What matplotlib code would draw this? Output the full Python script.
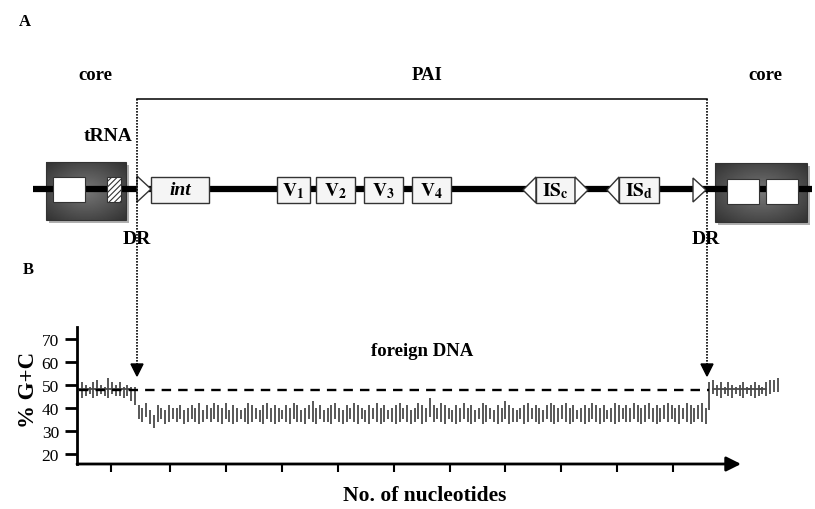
import numpy as np
import matplotlib.pyplot as plt
from matplotlib.patches import Rectangle, Polygon

plt.rcParams['font.family'] = 'Liberation Serif'
plt.rcParams['mathtext.fontset'] = 'stix'
plt.rcParams['hatch.linewidth'] = 0.8

# %G+C windows (low / high of each bar)
left_lo = [44, 45, 46, 44, 45, 46, 45, 44, 46, 45, 45, 44, 45, 43, 41]
left_hi = [51, 50, 49, 51, 52, 50, 49, 53, 51, 50, 51, 49, 50, 49, 49]

foreign_hi = [41, 40, 42, 39, 37, 41, 40, 39, 41, 40, 40, 41, 39, 40, 41, 40, 42, 39, 41, 40,
              42, 41, 40, 42, 39, 41, 40, 39, 40, 42, 41, 40, 39, 41, 42, 40, 41, 40, 39, 41,
              40, 42, 41, 39, 40, 41, 43, 40, 41, 39, 40, 41, 42, 40, 39, 41, 40, 42, 41, 40,
              39, 41, 40, 42, 40, 41, 39, 40, 41, 42, 40, 41, 39, 40, 42, 41, 40, 44, 41, 40,
              42, 41, 40, 39, 41, 40, 42, 40, 41, 39, 40, 42, 41, 40, 39, 41, 40, 43, 41, 40,
              39, 40, 41, 42, 40, 41, 40, 39, 41, 42, 41, 40, 41, 42, 40, 41, 39, 40, 41, 40,
              42, 41, 40, 41, 39, 40, 42, 41, 40, 41, 40, 42, 41, 40, 41, 42, 40, 41, 40, 41,
              42, 41, 40, 41, 40, 42, 41, 40, 41, 42, 40]
foreign_lo = [35, 34, 36, 33, 31, 34, 35, 33, 34, 35, 34, 35, 33, 34, 35, 34, 33, 34, 35, 34,
              35, 34, 33, 35, 34, 33, 34, 35, 34, 33, 34, 35, 34, 33, 35, 34, 33, 34, 35, 34,
              33, 35, 34, 34, 33, 35, 34, 33, 35, 34, 34, 33, 35, 34, 33, 34, 35, 34, 33, 35,
              34, 33, 35, 34, 33, 34, 35, 34, 33, 34, 35, 34, 33, 34, 35, 33, 34, 36, 34, 35,
              34, 33, 35, 34, 33, 34, 35, 34, 33, 34, 35, 33, 34, 35, 34, 33, 34, 35, 33, 34,
              34, 35, 33, 34, 35, 34, 33, 34, 35, 34, 33, 34, 35, 34, 33, 34, 35, 34, 33, 34,
              35, 34, 33, 34, 35, 34, 33, 34, 35, 34, 34, 35, 34, 33, 34, 35, 34, 33, 34, 35,
              34, 35, 34, 33, 35, 34, 33, 34, 35, 34, 33]

right_lo = [39, 46, 45, 44, 46, 45, 44, 46, 45, 44, 46, 45, 44, 45, 46, 45, 46, 47, 47]
right_hi = [51, 52, 50, 51, 49, 51, 50, 49, 50, 51, 49, 50, 51, 50, 49, 51, 52, 52, 53]

# short mean marks on some core windows
left_tick_idx = [0, 2, 4, 6, 8, 10, 12]
right_tick_idx = [2, 4, 6, 8, 10, 11, 13, 14]
tick_level = 48
core_mean = 47.5

fig = plt.figure(figsize=(8.15, 5.10), dpi=100)

# ---------- panel A (drawn in pixel space) ----------
bg = fig.add_axes([0, 0, 1, 1])
bg.axis('off')

def gene_box(x0, x1, label, italic=False):
    bg.add_patch(Rectangle((x0, 178), x1 - x0, 26, facecolor='#f5f5f5',
                           edgecolor='#333333', lw=1.0, zorder=3))
    bg.text((x0 + x1) / 2, 191, label, ha='center', va='center', fontsize=14,
            fontweight='bold', fontstyle='italic' if italic else 'normal', zorder=4)

def tri(xb, xt, y0=178, y1=204):
    bg.add_patch(Polygon([(xb, y0), (xb, y1), (xt, (y0 + y1) / 2)], closed=True,
                         facecolor='white', edgecolor='#333333', lw=1.0, zorder=3))

def core_box(x0, x1, y0, y1):
    bg.add_patch(Rectangle((x0 + 3, y0 + 3), x1 - x0, y1 - y0, facecolor='#b0b0b0',
                           edgecolor='none', zorder=1))
    u, v = np.meshgrid(np.linspace(-1, 1, 60), np.linspace(-1, 1, 40))
    d = np.sqrt(u ** 2 + v ** 2) / np.sqrt(2)
    bg.imshow(0.47 - 0.27 * d, cmap='gray', vmin=0, vmax=1, extent=(x0, x1, y1, y0),
              aspect='auto', zorder=1.5)
    bg.add_patch(Rectangle((x0, y0), x1 - x0, y1 - y0, facecolor='none',
                           edgecolor='#333333', lw=0.8, zorder=1.6))

# DNA line
bg.plot([33, 812], [190, 190], color='black', lw=4.5, solid_capstyle='butt', zorder=2)

core_box(46, 126, 163, 221)
core_box(715, 807, 164, 223)
bg.add_patch(Rectangle((53, 178), 32, 25, facecolor='white', edgecolor='#333333', lw=0.8, zorder=3))
bg.add_patch(Rectangle((107, 178), 14, 25, facecolor='white', edgecolor='#333333',
                       hatch='//////', lw=0.8, zorder=3))
bg.add_patch(Rectangle((727, 180), 32, 25, facecolor='white', edgecolor='#333333', lw=0.8, zorder=3))
bg.add_patch(Rectangle((766, 180), 32, 25, facecolor='white', edgecolor='#333333', lw=0.8, zorder=3))

tri(137, 151, 177, 203)
gene_box(151, 209, 'int', italic=True)
gene_box(277, 310, r'$\mathbf{V_1}$')
gene_box(316, 355, r'$\mathbf{V_2}$')
gene_box(364, 403, r'$\mathbf{V_3}$')
gene_box(412, 451, r'$\mathbf{V_4}$')
tri(536, 523)
gene_box(536, 575, r'$\mathbf{IS_c}$')
tri(575, 588)
tri(619, 607)
gene_box(619, 659, r'$\mathbf{IS_d}$')
tri(693, 706, 179, 203)

# PAI bracket and dotted arrows into panel B
bg.plot([137, 707], [100, 100], color='black', lw=1.1, zorder=2)
for xa in (137, 707):
    bg.plot([xa, xa], [100, 365], color='black', lw=1.2, ls=(0, (1, 0.8)), zorder=4)
    bg.add_patch(Polygon([(xa - 6, 365), (xa + 6, 365), (xa, 377)], closed=True,
                         facecolor='black', edgecolor='black', zorder=4))

txt = dict(fontweight='bold', ha='center', va='center')
bg.text(25, 22, 'A', fontsize=12, **txt)
bg.text(28, 270, 'B', fontsize=12, **txt)
bg.text(95, 75, 'core', fontsize=13.5, **txt)
bg.text(765, 75, 'core', fontsize=13.5, **txt)
bg.text(427, 75, 'PAI', fontsize=13.5, **txt)
bg.text(108, 137, 'tRNA', fontsize=14, **txt)
bg.text(137, 240, 'DR', fontsize=14, **txt)
bg.text(706, 240, 'DR', fontsize=14, **txt)
bg.text(422, 352, 'foreign DNA', fontsize=13.5, **txt)
bg.text(28, 390, '% G+C', fontsize=16.5, rotation=90, **txt)
bg.text(425, 496, 'No. of nucleotides', fontsize=15.5, **txt)

bg.set_xlim(0, 815)
bg.set_ylim(510, 0)

# ---------- panel B ----------
px = 3.78  # pixels per window
axB = fig.add_axes([77 / 815, 45 / 510, 723 / 815, 137 / 510])
axB.patch.set_alpha(0)
axB.set_xlim(0, 723 / px)
axB.set_ylim(15.6, 75)

lo = left_lo + foreign_lo + right_lo
hi = left_hi + foreign_hi + right_hi
xs = np.arange(len(lo)) + 5 / px
axB.vlines(xs, lo, hi, color='#4a4a4a', lw=1.3)

n_left = len(left_lo)
n_right_start = n_left + len(foreign_lo)
for i in left_tick_idx:
    axB.plot([xs[i] - 1, xs[i] + 1], [tick_level, tick_level], color='#4a4a4a', lw=1.3)
for i in right_tick_idx:
    j = n_right_start + i
    axB.plot([xs[j] - 1, xs[j] + 1], [tick_level, tick_level], color='#4a4a4a', lw=1.3)

axB.hlines(core_mean, 0.5, xs[n_right_start], color='black', lw=1.7, linestyles=(0, (4, 3)))

for s in ('top', 'right', 'bottom'):
    axB.spines[s].set_visible(False)
axB.spines['left'].set_linewidth(2)
axB.annotate('', xy=(664 / px, 15.6), xytext=(0, 15.6), xycoords='data',
             arrowprops=dict(arrowstyle='-|>', color='black', lw=2, mutation_scale=22,
                             shrinkA=0, shrinkB=0), annotation_clip=False)

axB.set_yticks([20, 30, 40, 50, 60, 70])
axB.tick_params(axis='y', length=9, width=2, labelsize=12.5, pad=4)
axB.set_xticks((np.array([111, 170, 226, 282, 338, 394, 450, 505, 561, 617, 673]) - 77) / px)
axB.set_xticklabels([])
axB.tick_params(axis='x', length=5.5, width=1.5)

fig.savefig('out.png', dpi=100)
